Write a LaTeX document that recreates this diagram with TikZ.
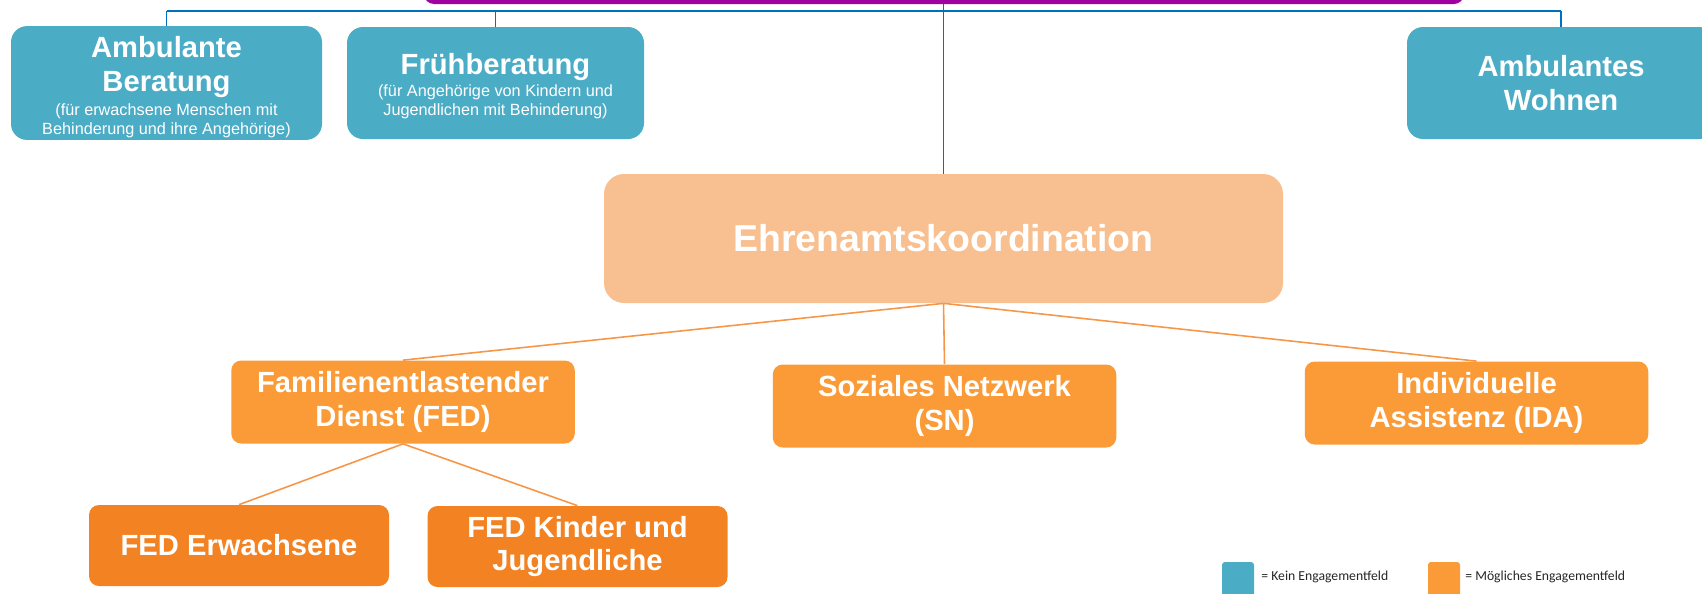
\documentclass[tikz,border=0pt]{standalone}
\usepackage{fontspec}
\setmainfont{Liberation Sans}
\newfontfamily\legendfamily{Carlito}
\usepackage{tikz}
\usetikzlibrary{calc}
\usetikzlibrary{arrows.meta, positioning, shapes.geometric}

\definecolor{keinblau}{RGB}{75,172,198}
\definecolor{engorange}{RGB}{250,155,55}
\definecolor{fedorange}{RGB}{242,130,34}
\definecolor{koordorange}{RGB}{248,192,144}
\definecolor{lila}{RGB}{160,0,160}
\definecolor{linienblau}{RGB}{0,112,192}
\definecolor{linienorange}{RGB}{247,150,70}

\newcommand{\boxfnt}{\fontsize{16.6}{19.3}\selectfont\bfseries}
\newcommand{\headfnt}{\fontsize{21.3}{23}\selectfont\bfseries}
\newcommand{\notefnt}{\fontsize{9.25}{10.9}\selectfont\mdseries}
\newcommand{\legfnt}{\legendfamily\fontsize{7.8}{9}\selectfont}

\begin{document}
\begin{tikzpicture}[every node/.style={inner sep=0pt, align=center, text=white, font=\boxfnt},
    kein/.style={fill=keinblau, rounded corners=3.2mm, minimum height=2.24cm},
    feld/.style={fill=engorange, rounded corners=2mm, minimum width=6.87cm, minimum height=1.66cm},
    unter/.style={fill=fedorange, rounded corners=2mm, minimum width=6cm, minimum height=1.62cm},
    blaulinie/.style={draw=linienblau, line width=1pt},
    orangelinie/.style={draw=linienorange, line width=0.9pt}]
    \useasboundingbox (0,0) rectangle (34.04,-11.86);

    \node[fill=lila, rounded corners=2mm, minimum width=20.8cm, minimum height=1cm] (traeger) at (18.88,0.42) {};
    \coordinate (bus) at (0,-0.22);

    \node[kein, minimum width=6.22cm] (ambberatung) at (3.33,-1.66)
        {\rule{0pt}{18pt}Ambulante\\Beratung\\[-6pt]{\notefnt\begin{tabular}[t]{@{}c@{}}(für erwachsene Menschen mit\\Behinderung und ihre Angehörige)\end{tabular}}};
    \node[kein, minimum width=5.94cm] (fruehberatung) at (9.91,-1.66)
        {\rule{0pt}{17pt}Frühberatung\\[-7pt]{\notefnt\begin{tabular}[t]{@{}c@{}}(für Angehörige von Kindern und\\Jugendlichen mit Behinderung)\end{tabular}}};
    \node[kein, minimum width=6.16cm] (ambwohnen) at (31.22,-1.66) {Ambulantes\\Wohnen};

    \node[fill=koordorange, rounded corners=4mm, minimum width=13.58cm, minimum height=2.58cm, font=\headfnt] (koordination) at (18.87,-4.77) {Ehrenamtskoordination};

    \node[feld] (fed) at (8.06,-8.04) {Familienentlastender\\Dienst (FED)};
    \node[feld] (sn) at (18.89,-8.12) {Soziales Netzwerk\\(SN)};
    \node[feld] (ida) at (29.53,-8.06) {Individuelle\\Assistenz (IDA)};

    \node[unter] (fedadult) at (4.78,-10.91) {FED Erwachsene};
    \node[unter] (fedkids) at (11.55,-10.93) {FED Kinder und\\Jugendliche};

    \node[fill=keinblau, rounded corners=0.6mm, minimum width=0.64cm, minimum height=0.72cm] (legblau) at (24.76,-11.6) {};
    \node[anchor=west, text=black!85, font=\legfnt] (legkein) at (25.22,-11.54) {= Kein Engagementfeld};
    \node[fill=engorange, rounded corners=0.6mm, minimum width=0.64cm, minimum height=0.72cm] (legorange) at (28.88,-11.6) {};
    \node[anchor=west, text=black!85, font=\legfnt] (legmoeglich) at (29.3,-11.54) {= Mögliches Engagementfeld};

    \draw[blaulinie] (ambberatung.north |- bus) -- (ambwohnen.north |- bus);
    \draw[blaulinie] (ambberatung.north |- bus) -- (ambberatung.north);
    \draw[blaulinie] (fruehberatung.north |- bus) -- (fruehberatung.north);
    \draw[blaulinie] (ambwohnen.north |- bus) -- (ambwohnen.north);
    \draw[blaulinie] (koordination.north |- traeger.south) -- (koordination.north);

    \draw[orangelinie] (koordination.south) -- (fed.north);
    \draw[orangelinie] (koordination.south) -- (sn.north);
    \draw[orangelinie] (koordination.south) -- (ida.north);
    \draw[orangelinie] (fed.south) -- (fedadult.north);
    \draw[orangelinie] (fed.south) -- (fedkids.north);
\end{tikzpicture}
\end{document}
